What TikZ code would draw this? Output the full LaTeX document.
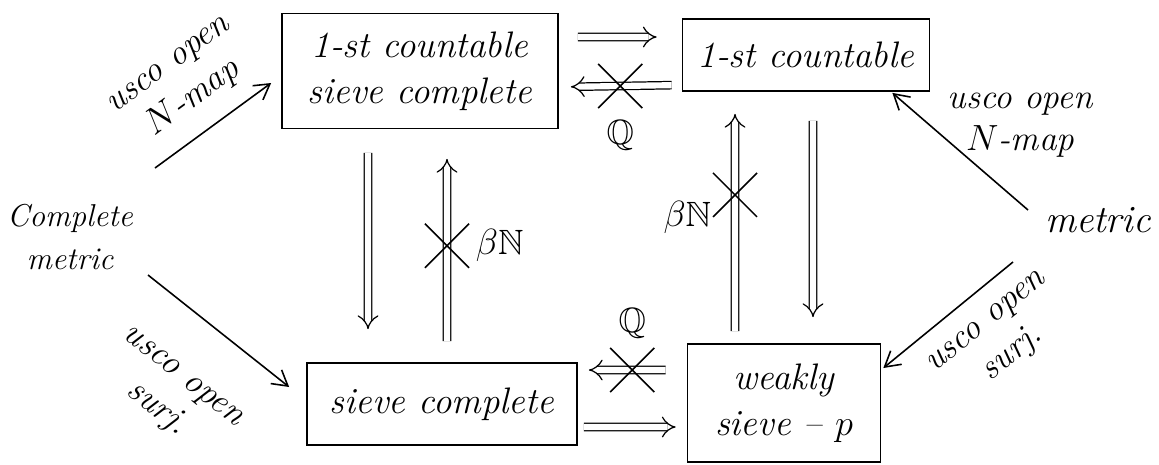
\documentclass[tikz,border=0pt]{standalone}
\usepackage{amsmath}
\usepackage{amssymb}
\usepackage{tikz}
\usetikzlibrary{arrows.meta,shapes.misc}

\begin{document}
\begin{tikzpicture}[x=0.02cm, y=-0.02cm,
  box/.style={draw, line width=1pt, align=center, inner sep=0pt, font=\fontsize{21}{26}\selectfont\itshape},
  txt/.style={align=center, font=\fontsize{20}{24}\selectfont\itshape},
  map/.style={-{Straight Barb[length=3mm,width=3.5mm]}, line width=0.9pt},
  imp/.style={double, double distance=3.5pt, line width=0.7pt, -{Implies}},
  nope/.style={draw, cross out, line width=0.9pt, minimum size=0.85cm, inner sep=0pt}]
  \useasboundingbox (0,0) rectangle (1159,464);
  \node[box, minimum width=5.52cm, minimum height=2.3cm] (fcsc) at (420,71) {1-st countable\\sieve complete};
  \node[box, minimum width=4.94cm, minimum height=1.44cm] (fc) at (806,55) {1-st countable};
  \node[box, minimum width=5.4cm, minimum height=1.64cm] (sc) at (442,404) {sieve complete};
  \node[box, minimum width=3.86cm, minimum height=2.36cm] (wsp) at (784,403) {weakly\\sieve -- $p$};
  \node[txt, font=\fontsize{18}{24}\selectfont\itshape] (cmet) at (70,237) {Complete\\metric};
  \node[txt, font=\fontsize{22}{26}\selectfont\itshape] (met) at (1098,220) {metric};
  % maps out of the metric spaces
  \draw[map] ([shift={(85,-69)}]cmet.center) -- ([shift={(-10,12)}]fcsc.west)
    node[txt, midway, sloped, above=0.25cm] (lbl1) {usco open\\$N$-map};
  \draw[map] ([shift={(78,38)}]cmet.center) -- ([shift={(-17,-17)}]sc.west)
    node[txt, midway, sloped, below=0.85cm] (lbl2) {usco open\\surj.};
  \draw[map] ([shift={(-70,-10)}]met.center) -- ([shift={(-38,1)}]fc.south east)
    node[txt, midway, xshift=1.2cm, yshift=0.52cm] (lbl3) {usco open\\$N$-map};
  \draw[map] ([shift={(-85,42)}]met.center) -- ([shift={(2,-35)}]wsp.east)
    node[txt, pos=0.35, sloped, below=0.28cm] (lbl4) {usco open\\surj.};
  % implications
  \draw[imp, shorten <=0.38cm, shorten >=0.5cm] ([yshift=0.68cm]fcsc.east) -- ([yshift=0.36cm]fc.west);
  \draw[imp, shorten <=0.2cm, shorten >=0.24cm] ([yshift=-0.6cm]fc.west) -- ([yshift=-0.32cm]fcsc.east)
    coordinate[midway] (m1) node[txt, midway, below=0.55cm] (q1) {$\mathbb{Q}$};
  \draw[imp, shorten <=0.42cm, shorten >=0.22cm] ([yshift=0.66cm]wsp.west) -- ([yshift=0.68cm]sc.east)
    coordinate[midway] (m2) node[txt, midway, above=0.5cm] (q2) {$\mathbb{Q}$};
  \draw[imp, shorten <=0.12cm, shorten >=0.22cm] ([yshift=-0.46cm]sc.east) -- ([yshift=-0.48cm]wsp.west);
  \draw[imp, shorten <=0.47cm, shorten >=0.66cm] ([xshift=-1.04cm]fcsc.south) -- ([xshift=-1.48cm]sc.north);
  \draw[imp, shorten <=0.42cm, shorten >=0.59cm] ([xshift=0.1cm]sc.north) -- ([xshift=0.54cm]fcsc.south)
    coordinate[midway] (m3) node[txt, midway, right=0.45cm] (b1) {$\beta\mathbb{N}$};
  \draw[imp, shorten <=0.24cm, shorten >=0.44cm] ([xshift=-0.98cm]wsp.north) -- ([xshift=-1.42cm]fc.south)
    coordinate[pos=0.59] (m4) node[txt, midway, left=0.35cm] (b2) {$\beta\mathbb{N}$};
  \draw[imp, shorten <=0.58cm, shorten >=0.52cm] ([xshift=0.14cm]fc.south) -- ([xshift=0.58cm]wsp.north);
  % crossed out implications
  \foreach \m in {1,...,4}
    \node[nope] (x\m) at (m\m) {};
\end{tikzpicture}
\end{document}
